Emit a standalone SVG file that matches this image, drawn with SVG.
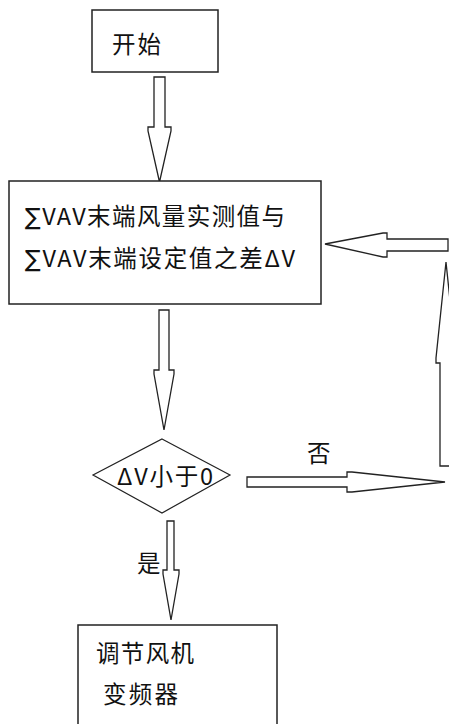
<svg xmlns="http://www.w3.org/2000/svg" width="449" height="724" viewBox="0 0 449 724">
<style>
.box{fill:#fff;stroke:#222;stroke-width:1.5}
.arr{fill:#fff;stroke:#222;stroke-width:1.3;stroke-linejoin:miter}
text{font-family:"Noto Sans CJK SC","Microsoft YaHei",sans-serif;font-size:23.5px;fill:#111}
.sig{font-family:"DejaVu Sans",sans-serif}
</style>
<rect width="449" height="724" fill="#fff"/>
<g id="connectors">
<polygon class="arr" points="154,77 165,77 165,127 171,127 171,131 159.5,182 148,131 148,127 154,127"/>
<polygon class="arr" points="159,310 169,310 169,370 174,370 174,374 164,430 154,374 154,370 159,370"/>
<polygon class="arr" points="167,521 174,521 174,570 179,570 179,574 171,620 163,574 163,570 167,570"/>
<polygon class="arr" points="247,477 347,477 347,472 352,472 445,482 352,492 347,492 347,487 247,487"/>
<polygon class="arr" points="440,466 452,466 452,363 456,363 456,358 446,262 436,358 436,363 440,363"/>
<polygon class="arr" points="448,239 448,251 387,251 387,257 383,257 325,244 383,233 387,233 387,239"/>
</g>
<g id="start">
<rect class="box" x="92" y="10" width="126" height="62"/>
<text x="112" y="53" textLength="49" lengthAdjust="spacing">开始</text>
</g>
<g id="calc">
<rect class="box" x="9" y="181" width="312" height="123"/>
<text x="25" y="225" textLength="260" lengthAdjust="spacing"><tspan class="sig">∑</tspan>VAV末端风量实测值与</text>
<text x="25" y="267" textLength="270" lengthAdjust="spacing"><tspan class="sig">∑</tspan>VAV末端设定值之差ΔV</text>
</g>
<g id="decision">
<polygon class="box" points="162,439 230,475 162,513 93,475" style="stroke-width:1.2"/>
<text x="117" y="485" textLength="96" lengthAdjust="spacing">ΔV小于0</text>
</g>
<g id="labels">
<text x="307" y="462">否</text>
<text x="137" y="572">是</text>
</g>
<g id="adjust">
<rect class="box" x="78" y="625" width="199" height="110"/>
<text x="96" y="662" textLength="98" lengthAdjust="spacing">调节风机</text>
<text x="103" y="703" textLength="75" lengthAdjust="spacing">变频器</text>
</g>
</svg>
